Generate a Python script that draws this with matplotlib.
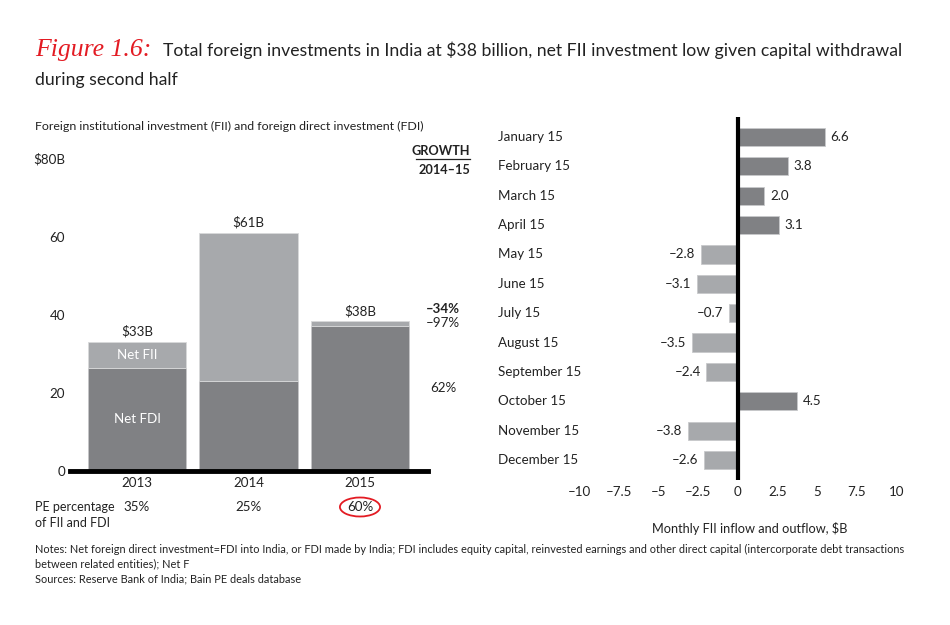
import matplotlib.pyplot as plt
import matplotlib.patches as patches
import matplotlib.transforms as mtransforms
import numpy as np

plt.rcParams['font.family'] = ['Lato', 'DejaVu Sans']

DARK = '#808184'
LIGHT = '#a7a9ac'
RED = '#e31b23'
INK = '#222222'
FS = 9.6

# left chart data ($B)
years = ['2013', '2014', '2015']
net_fdi = [26.5, 23.0, 37.2]
net_fii = [6.5, 38.0, 1.1]
total_labels = ['$33B', '$61B', '$38B']
pe_share = ['35%', '25%', '60%']
growth = ['\u201334%', '\u201397%', '62%']
left_ticks = [0, 20, 40, 60, 80]
left_ticklabels = ['0', '20', '40', '60', '$80B']

# right chart data ($B)
months = ['January 15', 'February 15', 'March 15', 'April 15', 'May 15', 'June 15',
          'July 15', 'August 15', 'September 15', 'October 15', 'November 15', 'December 15']
fii_flow = [6.6, 3.8, 2.0, 3.1, -2.8, -3.1, -0.7, -3.5, -2.4, 4.5, -3.8, -2.6]
right_ticks = [-10, -7.5, -5, -2.5, 0, 2.5, 5, 7.5, 10]
# the original's tick labels sit wider apart than its bar lengths
TICK_SCALE = 1.2

W, H = 950, 625
fig = plt.figure(figsize=(9.5, 6.25), dpi=100)


def px_axes(x0, y0, x1, y1):
    return fig.add_axes([x0 / W, 1 - y1 / H, (x1 - x0) / W, (y1 - y0) / H])


def ftext(x, y, s, **kw):
    kw.setdefault('color', INK)
    fig.text(x / W, 1 - y / H, s, **kw)


# titles
ftext(35, 50, 'Figure 1.6:', color=RED, fontsize=18.5, style='italic',
      family='Liberation Serif', va='center')
ftext(163, 50, 'Total foreign investments in India at $38 billion, net FII investment low given capital withdrawal',
      fontsize=12.7, va='center')
ftext(35, 80, 'during second half', fontsize=12.7, va='center')
ftext(35, 126, 'Foreign institutional investment (FII) and foreign direct investment (FDI)',
      fontsize=8.9, va='center')

# ---- left: stacked bars ----
ax = px_axes(70, 158.6, 428, 471)
x = np.arange(len(years))
ax.bar(x, net_fdi, width=0.88, color=DARK, edgecolor='#c5c6c8', linewidth=0.6)
ax.bar(x, net_fii, bottom=net_fdi, width=0.88, color=LIGHT, edgecolor='#d8d9da', linewidth=0.6)
ax.set_xlim(-0.601, 2.61)
ax.set_ylim(0, 80)
for s in ax.spines.values():
    s.set_visible(False)
ax.axhline(0, color='black', lw=3.5, clip_on=False)
ax.set_yticks(left_ticks)
ax.set_yticklabels(left_ticklabels)
ax.set_xticks(x)
ax.set_xticklabels(years)
ax.tick_params(length=0, labelsize=FS, colors=INK)
ax.tick_params(axis='y', pad=3.5)
ax.tick_params(axis='x', pad=4)

for i in range(len(years)):
    top = net_fdi[i] + net_fii[i]
    ax.annotate(total_labels[i], (x[i], top), xytext=(0, 3), textcoords='offset points',
                ha='center', va='bottom', fontsize=FS, color=INK)
ax.text(x[0], net_fdi[0] + net_fii[0] / 2, 'Net FII', ha='center', va='center',
        color='white', fontsize=FS)
ax.text(x[0], net_fdi[0] / 2, 'Net FDI', ha='center', va='center', color='white', fontsize=FS)

# growth column
ftext(470, 151, 'GROWTH', ha='right', va='center', fontsize=9.2, weight='bold')
fig.add_artist(plt.Line2D([416 / W, 470 / W], [1 - 159 / H, 1 - 159 / H], color=INK, lw=0.9))
ftext(470, 170, '2014\u201315', ha='right', va='center', fontsize=9.2, weight='bold')
ftext(443, 309, growth[0], ha='center', va='center', fontsize=FS, weight='bold')
ftext(443, 323, growth[1], ha='center', va='center', fontsize=FS)
ftext(443, 388, growth[2], ha='center', va='center', fontsize=FS)

# PE percentage row
ftext(35, 507, 'PE percentage', va='center', fontsize=9.0)
ftext(35, 523, 'of FII and FDI', va='center', fontsize=9.0)
trans = mtransforms.blended_transform_factory(ax.transData, fig.transFigure)
for i, s in enumerate(pe_share):
    ax.text(x[i], 1 - 507 / H, s, transform=trans, ha='center', va='center',
            fontsize=FS, color=INK)
circle = patches.Ellipse((x[2], 1 - 507 / H), 0.36, 19 / H, transform=trans,
                         fill=False, edgecolor=RED, lw=1.3, clip_on=False)
ax.add_patch(circle)

# ---- right: monthly FII flows ----
ax2 = px_axes(560, 117, 910, 480)
y = np.arange(len(months))
colors = [DARK if v > 0 else LIGHT for v in fii_flow]
ax2.barh(y, fii_flow, height=0.62, color=colors, edgecolor='#c8c9cb', linewidth=0.6)
ax2.set_xlim(-13.48, 13.03)
ax2.set_ylim(11.68, -0.68)
for s in ax2.spines.values():
    s.set_visible(False)
ax2.axvline(0, color='black', lw=3)
ax2.set_yticks([])
ax2.set_xticks([t * TICK_SCALE for t in right_ticks])
ax2.set_xticklabels([('%g' % t).replace('-', '\u2013') for t in right_ticks])
ax2.tick_params(length=0, labelsize=FS, colors=INK, pad=4)
ax2.set_xlabel('Monthly FII inflow and outflow, $B', fontsize=9.2, color=INK)
ax2.xaxis.set_label_coords(0.543, -0.115)

ytrans = mtransforms.blended_transform_factory(fig.transFigure, ax2.transData)
for i, (m, v) in enumerate(zip(months, fii_flow)):
    ax2.text(498 / W, i, m, transform=ytrans, ha='left', va='center', fontsize=FS, color=INK)
    lab = ('%.1f' % v).replace('-', '\u2013')
    if v > 0:
        ax2.annotate(lab, (v, i), xytext=(4, 0), textcoords='offset points',
                     ha='left', va='center', fontsize=FS, color=INK)
    else:
        ax2.annotate(lab, (v, i), xytext=(-4, 0), textcoords='offset points',
                     ha='right', va='center', fontsize=FS, color=INK)

# notes
ftext(35, 549, 'Notes: Net foreign direct investment=FDI into India, or FDI made by India; FDI includes equity capital, '
      'reinvested earnings and other direct capital (intercorporate debt transactions',
      va='center', fontsize=7.9)
ftext(35, 564, 'between related entities); Net F', va='center', fontsize=7.9)
ftext(35, 579, 'Sources: Reserve Bank of India; Bain PE deals database', va='center', fontsize=7.9)

fig.savefig('out.png', dpi=100, facecolor='white')
